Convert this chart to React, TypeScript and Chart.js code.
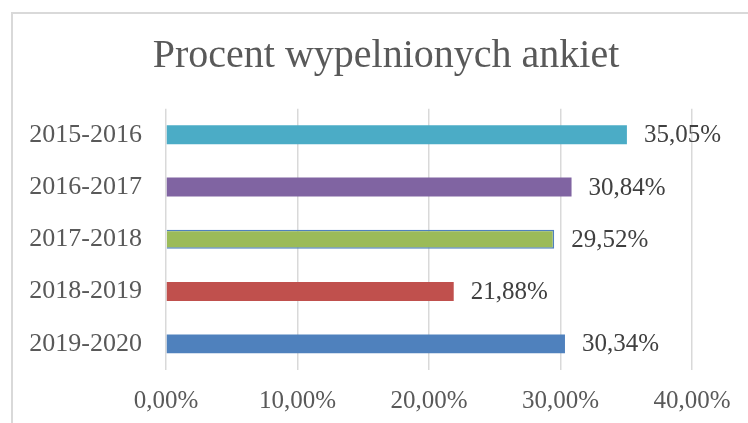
import React, { useEffect, useRef } from "react";
import { Chart, registerables } from "chart.js";

Chart.register(...registerables);

const TITLE = "Procent wypelnionych ankiet";
const CATEGORIES = ["2015-2016", "2016-2017", "2017-2018", "2018-2019", "2019-2020"];
const VALUES = [35.05, 30.84, 29.52, 21.88, 30.34];
const BAR_COLORS = ["#4BACC6", "#8064A2", "#9BBB59", "#C0504D", "#4F81BD"];
const BORDER_COLORS = ["#4BACC6", "#8064A2", "#4F81BD", "#C0504D", "#4F81BD"];
const BORDER_WIDTHS = [0, 0, 1.5, 0, 0];
const X_MIN = 0;
const X_MAX = 40;
const X_STEP = 10;

const FONT = "'Liberation Serif', 'Times New Roman', serif";

const fmt = (v: number) => v.toFixed(2).replace(".", ",") + "%";

const dataLabels = {
  id: "dataLabels",
  afterDatasetsDraw(chart: any) {
    const ctx = chart.ctx;
    const meta = chart.getDatasetMeta(0);
    ctx.save();
    ctx.font = `25px ${FONT}`;
    ctx.fillStyle = "#404040";
    ctx.textAlign = "left";
    ctx.textBaseline = "middle";
    meta.data.forEach((bar: any, i: number) => {
      const v = chart.data.datasets[0].data[i];
      ctx.fillText(fmt(v), bar.x + 17, bar.y + 1);
    });
    ctx.restore();
  },
};

// Title centred on the chart frame (not on the plot area)
const frameTitle = {
  id: "frameTitle",
  afterDraw(chart: any) {
    const ctx = chart.ctx;
    ctx.save();
    ctx.font = `40px ${FONT}`;
    ctx.fillStyle = "#595959";
    ctx.textAlign = "center";
    ctx.textBaseline = "alphabetic";
    ctx.fillText(TITLE, 386, 67);
    ctx.restore();
  },
};

export default function App() {
  const ref = useRef<HTMLCanvasElement>(null);
  useEffect(() => {
    if (!ref.current) return;
    const chart = new Chart(ref.current, {
      type: "bar",
      data: {
        labels: CATEGORIES,
        datasets: [
          {
            data: VALUES,
            backgroundColor: BAR_COLORS,
            borderColor: BORDER_COLORS,
            borderWidth: BORDER_WIDTHS,
            barPercentage: 0.363,
            categoryPercentage: 1,
          },
        ],
      },
      options: {
        indexAxis: "y",
        responsive: false,
        animation: false,
        layout: { padding: { top: 108.7, right: 56, left: 0, bottom: 0 } },
        plugins: {
          legend: { display: false },
          tooltip: { enabled: false },
          title: { display: false },
        },
        scales: {
          x: {
            min: X_MIN,
            max: X_MAX,
            ticks: {
              stepSize: X_STEP,
              color: "#595959",
              font: { family: FONT, size: 25 },
              padding: 16,
              callback: (v: any) => fmt(Number(v)),
            },
            grid: { color: "#d9d9d9", lineWidth: 1.5, drawTicks: false },
            border: { display: false },
            afterFit: (s: any) => {
              s.height = 53;
            },
          },
          y: {
            ticks: {
              color: "#595959",
              font: { family: FONT, size: 26 },
              padding: 24,
            },
            grid: { display: false, drawTicks: false },
            border: { display: false },
            afterFit: (s: any) => {
              s.width = 166;
            },
          },
        },
      },
      plugins: [dataLabels, frameTitle],
    });
    return () => chart.destroy();
  }, []);

  return (
    <div
      style={{
        position: "fixed",
        left: 0,
        top: 0,
        width: 748,
        height: 423,
        overflow: "hidden",
        background: "#ffffff",
      }}
    >
      <div
        style={{
          position: "absolute",
          left: 11,
          top: 12,
          width: 800,
          height: 500,
          border: "2px solid #d9d9d9",
        }}
      />
      <canvas
        ref={ref}
        width={748}
        height={423}
        style={{ position: "absolute", left: 0, top: 0 }}
      />
    </div>
  );
}
